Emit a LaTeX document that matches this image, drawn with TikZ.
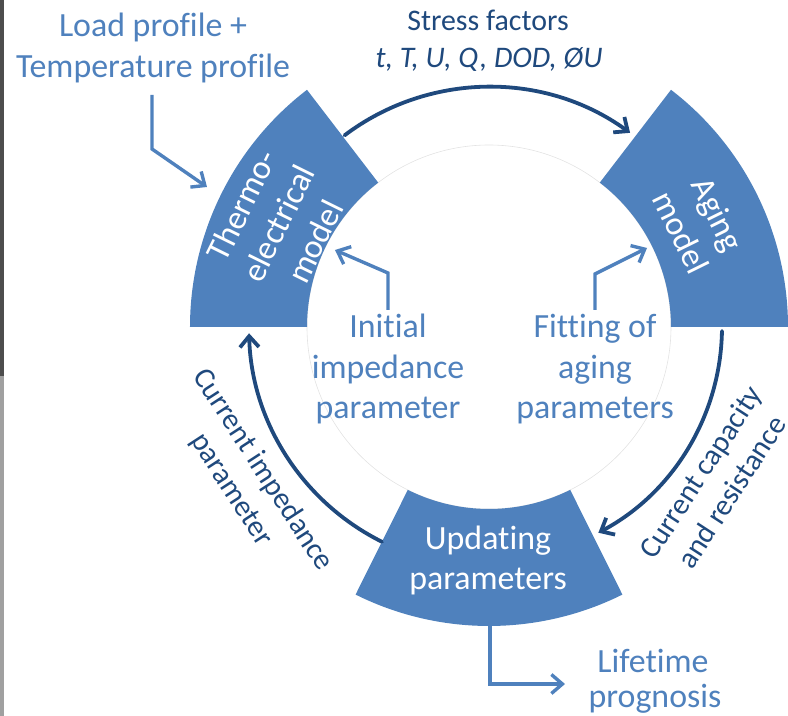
\documentclass[tikz,border=0pt]{standalone}
\usepackage{fontspec}
\setmainfont{Carlito}[Ligatures=NoCommon]
\usetikzlibrary{arrows.meta}
\definecolor{blk}{HTML}{4F81BD}
\definecolor{dk}{HTML}{1F497D}
\definecolor{lt}{HTML}{4F81BD}
\definecolor{stripdark}{HTML}{4D4D4D}
\definecolor{striplight}{HTML}{A0A0A0}
\begin{document}
\begin{tikzpicture}[x=1bp,y=1bp,
  big/.style={font=\fontsize{34}{41}\selectfont, inner sep=0pt},
  midf/.style={font=\fontsize{30}{37}\selectfont, inner sep=0pt},
  blocktext/.style={big, text=white, align=center},
  darkarc/.style={draw=dk, line width=3.8bp, line cap=round, line join=round, -{Straight Barb[length=11bp,width=19bp,line width=3.8bp]}},
  lightarrow/.style={draw=lt, line width=3.4bp, line join=miter, -{Straight Barb[length=11bp,width=19bp,line width=3.4bp]}},
  sector/.style={fill=blk}
]
\useasboundingbox (-489,-389) rectangle (299,327);
% left edge strips
\fill[stripdark] (-489,-49) rectangle (-485,327);
\fill[striplight] (-489,-389) rectangle (-485,-49);

% inner circle
\draw[gray!22, line width=0.6bp] (0,0) circle[radius=182];

% blocks
\fill[sector] (127.5:299) arc[start angle=127.5, end angle=180, radius=299]
   -- (180:182) arc[start angle=180, end angle=127.5, radius=182] -- cycle;
\fill[sector] (0:299) arc[start angle=0, end angle=52.5, radius=299]
   -- (52.5:182) arc[start angle=52.5, end angle=0, radius=182] -- cycle;
\fill[sector] (243.5:299) arc[start angle=243.5, end angle=296.5, radius=299]
   -- (296.5:182) arc[start angle=296.5, end angle=243.5, radius=182] -- cycle;

\coordinate (thermoC) at (153.75:235);
\coordinate (agingC) at (26.25:235);

\node[blocktext, rotate=63.75] (thermo) at (thermoC) {Thermo-\\electrical\\model};
\node[blocktext, rotate=-63.75] (aging) at (agingC) {Aging\\model};
\node[big, text=white, anchor=base] (upd1) at (-1,-222) {Updating};
\node[big, text=white, anchor=base] (upd2) at (-1,-262) {parameters};

% dark cycle arrows
\draw[darkarc] (127:240) arc[start angle=127, end angle=54, radius=240];
\draw[darkarc] (-1:233) arc[start angle=-1, end angle=-62, radius=233];
\draw[darkarc] (243.5:240) arc[start angle=243.5, end angle=181.5, radius=240];

% stress factors
\node[midf, text=dk, anchor=base] (stress1) at (-1,296) {Stress factors};
\node[midf, text=dk, anchor=base] (stress2) at (0,259) {\itshape t, T, U, Q, DOD, ØU};

% rotated dark labels
\node[midf, text=dk, align=center, rotate=-57] (curimp) at (-242,-153) {Current impedance\\parameter};
\node[midf, text=dk, align=center, rotate=57] (curcap) at (227,-155) {Current capacity\\and resistance};

% light texts
\node[big, text=lt, anchor=base] (load1) at (-336,290) {Load profile +};
\node[big, text=lt, anchor=base] (load2) at (-336,249) {Temperature profile};

\node[big, text=lt, anchor=base] (init1) at (-101,-11) {Initial};
\node[big, text=lt, anchor=base] (init2) at (-101,-52) {impedance};
\node[big, text=lt, anchor=base] (init3) at (-101,-92) {parameter};

\node[big, text=lt, anchor=base] (fit1) at (106,-11) {Fitting of};
\node[big, text=lt, anchor=base] (fit2) at (106,-52) {aging};
\node[big, text=lt, anchor=base] (fit3) at (106,-92) {parameters};

\node[big, text=lt, anchor=base] (life1) at (164,-345) {Lifetime};
\node[big, text=lt, anchor=base] (life2) at (166,-380) {prognosis};

% light arrows
\coordinate (loadS) at (-337,232);
\coordinate (loadK) at (-337,178);
\coordinate (loadT) at (-282,140);
\draw[lightarrow] (loadS) -- (loadK) -- (loadT);

\coordinate (initS) at (-101,17);
\coordinate (initK) at (-101,54);
\coordinate (initT) at (-154,77);
\draw[lightarrow] (initS) -- (initK) -- (initT);

\coordinate (fitS) at (106,17);
\coordinate (fitK) at (106,53);
\coordinate (fitT) at (158,79);
\draw[lightarrow] (fitS) -- (fitK) -- (fitT);

\coordinate (updS) at (1,-297);
\coordinate (updK) at (1,-357);
\coordinate (lifeT) at (76,-357);
\draw[lightarrow] (updS) -- (updK) -- (lifeT);
\end{tikzpicture}
\end{document}
